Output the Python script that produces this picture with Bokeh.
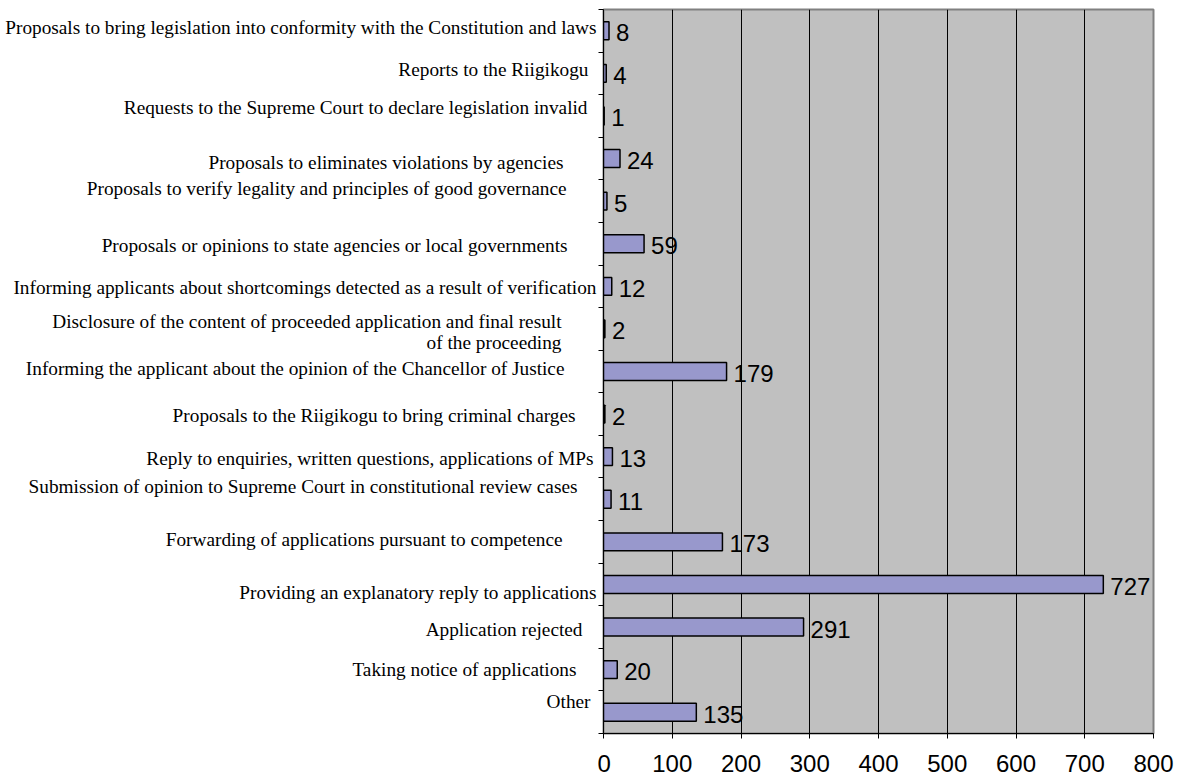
from bokeh.plotting import figure
from bokeh.layouts import row
from bokeh.models import ColumnDataSource, LabelSet, Range1d, FixedTicker, CustomJSTickFormatter
from bokeh.core.properties import value
from bokeh.embed import file_html
from bokeh.resources import INLINE

# ---- data (top to bottom as in the chart) ----
categories = [
    "Proposals to bring legislation into conformity with the Constitution and laws",
    "Reports to the Riigikogu",
    "Requests to the Supreme Court to declare legislation invalid",
    "Proposals to eliminates violations by agencies",
    "Proposals to verify legality and principles of good governance",
    "Proposals or opinions to state agencies or local governments",
    "Informing applicants about shortcomings detected as a result of verification",
    "Disclosure of the content of proceeded application and final result\nof the proceeding",
    "Informing the applicant about the opinion of the Chancellor of Justice",
    "Proposals to the Riigikogu to bring criminal charges",
    "Reply to enquiries, written questions, applications of MPs",
    "Submission of opinion to Supreme Court in constitutional review cases",
    "Forwarding of applications pursuant to competence",
    "Providing an explanatory reply to applications",
    "Application rejected",
    "Taking notice of applications",
    "Other",
]
counts = [8, 4, 1, 24, 5, 59, 12, 2, 179, 2, 13, 11, 173, 727, 291, 20, 135]
x_ticks = [0, 100, 200, 300, 400, 500, 600, 700, 800]
grid_ticks = [100, 200, 300, 400, 500, 600, 700]

# ---- label layout (pixel nudges relative to the value axis, as in the original sheet) ----
label_dx = [-7, -15, -16, -40, -37, -36, -7, -42, -39, -28, -10, -26, -41, -7, -21, -27, -13]
label_dy_down = [-3, -4, -8, 4, -13, 2, 1, 3, -3, 1, 2, -13, -2, 8, 2, 0, -11]
LINE_STEP = 21    # px between lines of a wrapped label
AXIS_GAP = 6      # width of the tick area left of the plot frame

n = len(categories)
ypos = [n - i - 0.5 for i in range(n)]
boundaries = list(range(n + 1))

src = ColumnDataSource(dict(
    y=ypos, v=counts, txt=[str(c) for c in counts], zero=[0] * n,
))

# one label row per text line so that every line is right-aligned
ly, ltxt, ldx, ldy = [], [], [], []
for cat, yy, dx, dy in zip(categories, ypos, label_dx, label_dy_down):
    lines = cat.split("\n")
    m = len(lines)
    for k, line in enumerate(lines):
        ly.append(yy)
        ltxt.append(line)
        ldx.append(dx + AXIS_GAP)
        ldy.append(-(dy + (k - (m - 1) / 2) * LINE_STEP))
lab_src = ColumnDataSource(dict(y=ly, txt=ltxt, dx=ldx, dy=ldy, zero=[0] * len(ly)))

yr = Range1d(0, n)

# ---- main chart ----
p = figure(frame_width=550, height=781, x_range=Range1d(0, 800), y_range=yr,
           output_backend="svg", toolbar_location=None,
           min_border_left=AXIS_GAP, min_border_right=32, min_border_top=9, min_border_bottom=48)
p.background_fill_color = "#C0C0C0"
p.border_fill_color = "white"
p.outline_line_color = "#808080"
p.outline_line_width = 2

p.hbar(y="y", left="zero", right="v", height=0.42, source=src,
       fill_color="#9898CC", line_color="black", line_width=1.5)

p.ygrid.visible = False
p.xgrid.ticker = FixedTicker(ticks=grid_ticks)
p.xgrid.grid_line_color = "black"
p.xgrid.grid_line_width = 1

p.xaxis.ticker = FixedTicker(ticks=x_ticks)
p.xaxis.axis_line_color = "black"
p.xaxis.major_tick_line_color = "black"
p.xaxis.major_tick_out = 5
p.xaxis.major_tick_in = 0
p.xaxis.minor_tick_line_color = None
p.xaxis.major_label_text_font = "Liberation Sans"
p.xaxis.major_label_text_font_size = "24px"
p.xaxis.major_label_text_color = "black"
p.xaxis.major_label_standoff = 16

p.yaxis.ticker = FixedTicker(ticks=boundaries)
p.yaxis.formatter = CustomJSTickFormatter(code="return ''")
p.yaxis.axis_line_color = "black"
p.yaxis.major_tick_line_color = "black"
p.yaxis.major_tick_out = 5
p.yaxis.major_tick_in = 0
p.yaxis.minor_tick_line_color = None
p.yaxis.major_label_standoff = 0

val_labels = LabelSet(x="v", y="y", text="txt", source=src, x_offset=7, y_offset=-2,
                      text_align="left", text_baseline="middle",
                      text_font=value("Liberation Sans"), text_font_size="24px",
                      text_color="black")
p.add_layout(val_labels)

# ---- category label column (shares the y scale) ----
lab = figure(width=1185 - 550 - 32 - AXIS_GAP, height=781, x_range=Range1d(-100, 0), y_range=yr,
             output_backend="svg", toolbar_location=None,
             x_axis_location=None, y_axis_location=None,
             min_border_left=0, min_border_right=0, min_border_top=9, min_border_bottom=48)
lab.outline_line_color = None
lab.background_fill_color = "white"
lab.border_fill_color = "white"
lab.xgrid.visible = False
lab.ygrid.visible = False

cat_labels = LabelSet(x="zero", y="y", text="txt", source=lab_src, x_offset="dx", y_offset="dy",
                      text_align="right", text_baseline="middle",
                      text_font=value("Liberation Serif"), text_font_size="19.3px",
                      text_color="black")
lab.add_layout(cat_labels)

layout = row(lab, p, spacing=0)
open("out.html", "w").write(file_html(layout, INLINE))
